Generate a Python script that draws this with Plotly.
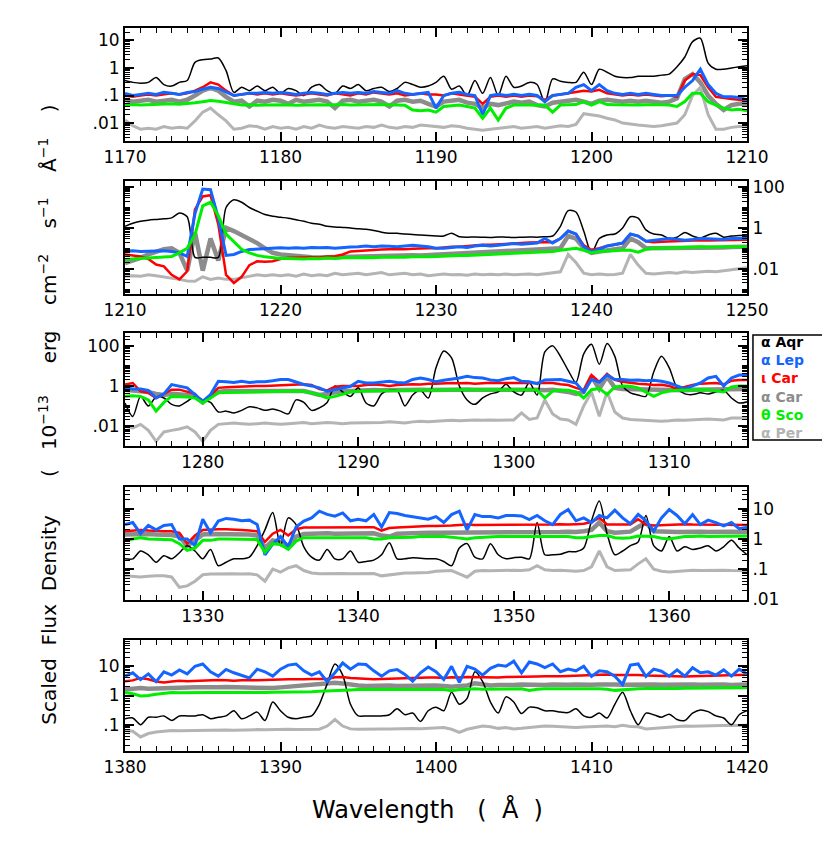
import numpy as np
import plotly.graph_objects as go

# wavelength windows (Angstrom), one per panel, sampled every 0.5 A
WINDOWS = [(1170, 1210), (1210, 1250), (1275, 1315), (1325, 1365), (1380, 1420)]
STEP = 0.5

# ---- panel 1 : 1170-1210 ----
p1_aqr = [0.35, 0.3, 0.28, 0.3, 0.45, 0.25, 0.22, 0.3, 0.35, 1.6,
          2.0, 2.1, 2.3, 0.8, 0.13, 0.2, 0.15, 0.22, 0.15, 0.2,
          0.12, 0.18, 0.15, 0.1, 0.2, 0.25, 0.15, 0.12, 0.22, 0.18,
          0.25, 0.15, 0.18, 0.2, 0.14, 0.18, 0.3, 0.25, 0.2, 0.22,
          0.3, 0.5, 0.17, 0.22, 0.1, 0.35, 0.12, 0.45, 0.1, 0.5,
          0.2, 0.22, 0.3, 0.25, 0.055, 0.4, 0.33, 0.3, 0.3, 0.7,
          0.25, 0.9, 0.7, 0.5, 0.45, 0.45, 0.5, 0.5, 0.5, 0.55,
          0.6, 1.1, 2.5, 9.0, 12.0, 1.5, 0.9, 0.9, 1.0, 1.1,
          1.2]
p1_lep = [0.12, 0.1, 0.11, 0.12, 0.11, 0.13, 0.12, 0.11, 0.13, 0.14,
          0.17, 0.2, 0.18, 0.13, 0.1, 0.11, 0.12, 0.12, 0.13, 0.12,
          0.13, 0.12, 0.11, 0.12, 0.13, 0.12, 0.11, 0.12, 0.13, 0.12,
          0.13, 0.12, 0.14, 0.13, 0.12, 0.15, 0.12, 0.11, 0.12, 0.13,
          0.035, 0.1, 0.12, 0.13, 0.11, 0.1, 0.02, 0.1, 0.11, 0.1,
          0.11, 0.1, 0.11, 0.1, 0.06, 0.1, 0.11, 0.12, 0.2, 0.25,
          0.15, 0.25, 0.15, 0.12, 0.11, 0.12, 0.11, 0.12, 0.11, 0.1,
          0.1, 0.1, 0.2, 0.35, 0.9, 0.25, 0.12, 0.09, 0.09, 0.085,
          0.07]
p1_icar = [0.1, 0.09, 0.1, 0.11, 0.1, 0.11, 0.12, 0.11, 0.12, 0.15,
           0.2, 0.3, 0.25, 0.15, 0.1, 0.11, 0.12, 0.11, 0.12, 0.11,
           0.12, 0.11, 0.1, 0.11, 0.12, 0.11, 0.1, 0.12, 0.11, 0.1,
           0.12, 0.11, 0.13, 0.12, 0.11, 0.12, 0.1, 0.11, 0.12, 0.11,
           0.11, 0.1, 0.12, 0.11, 0.1, 0.09, 0.05, 0.09, 0.1, 0.09,
           0.1, 0.09, 0.1, 0.095, 0.07, 0.1, 0.11, 0.12, 0.13, 0.15,
           0.14, 0.16, 0.12, 0.11, 0.1, 0.11, 0.1, 0.11, 0.1, 0.095,
           0.1, 0.09, 0.35, 0.6, 0.55, 0.2, 0.09, 0.08, 0.075, 0.07,
           0.065]
p1_acar = [0.07, 0.06, 0.065, 0.07, 0.06, 0.065, 0.07, 0.06, 0.07, 0.1,
           0.15, 0.19, 0.15, 0.09, 0.06, 0.065, 0.04, 0.065, 0.06, 0.07,
           0.065, 0.05, 0.07, 0.06, 0.065, 0.07, 0.06, 0.035, 0.065, 0.07,
           0.06, 0.065, 0.07, 0.06, 0.04, 0.065, 0.07, 0.06, 0.065, 0.05,
           0.04, 0.06, 0.065, 0.07, 0.055, 0.05, 0.035, 0.05, 0.045, 0.05,
           0.06, 0.055, 0.06, 0.045, 0.04, 0.055, 0.06, 0.065, 0.07, 0.06,
           0.05, 0.065, 0.07, 0.065, 0.06, 0.065, 0.06, 0.065, 0.06, 0.055,
           0.06, 0.08, 0.4, 0.6, 0.3, 0.1, 0.05, 0.03, 0.045, 0.05,
           0.05]
p1_sco = [0.045, 0.047, 0.045, 0.046, 0.048, 0.05, 0.05, 0.048, 0.05, 0.055,
          0.06, 0.066, 0.062, 0.055, 0.048, 0.045, 0.046, 0.044, 0.045, 0.046,
          0.045, 0.046, 0.044, 0.045, 0.047, 0.046, 0.045, 0.046, 0.047, 0.045,
          0.046, 0.047, 0.048, 0.047, 0.046, 0.045, 0.044, 0.03, 0.028, 0.03,
          0.025, 0.04, 0.042, 0.045, 0.04, 0.035, 0.015, 0.035, 0.013, 0.035,
          0.045, 0.046, 0.045, 0.044, 0.045, 0.025, 0.045, 0.046, 0.047, 0.06,
          0.045, 0.06, 0.047, 0.046, 0.045, 0.046, 0.045, 0.046, 0.047, 0.046,
          0.045, 0.04, 0.06, 0.12, 0.12, 0.06, 0.045, 0.035, 0.03, 0.032,
          0.028]
p1_per = [0.013, 0.008, 0.006, 0.0065, 0.006, 0.0075, 0.0065, 0.007, 0.0065, 0.012,
          0.025, 0.035, 0.02, 0.012, 0.006, 0.0065, 0.008, 0.0075, 0.006, 0.0075,
          0.0065, 0.007, 0.006, 0.0075, 0.0065, 0.0085, 0.007, 0.0065, 0.0075, 0.007,
          0.0065, 0.0075, 0.007, 0.0085, 0.007, 0.0065, 0.0075, 0.007, 0.0085, 0.008,
          0.0075, 0.007, 0.008, 0.0075, 0.0065, 0.006, 0.0055, 0.006, 0.0065, 0.007,
          0.0075, 0.0065, 0.007, 0.0075, 0.0065, 0.007, 0.008, 0.0075, 0.009, 0.022,
          0.02, 0.018, 0.015, 0.013, 0.01, 0.009, 0.0085, 0.008, 0.0075, 0.008,
          0.009, 0.01, 0.02, 0.1, 0.2, 0.02, 0.006, 0.006, 0.007, 0.0075,
          0.0075]

# ---- panel 2 : 1210-1250 ----
p2_aqr = [1.2, 1.7, 2.1, 2.4, 2.6, 2.8, 3.1, 5.4, 3.5, 0.036,
          0.036, 0.036, 0.036, 10.0, 24.0, 18.0, 10.0, 6.6, 4.5, 3.7,
          3.3, 3.0, 2.5, 2.1, 1.7, 1.5, 1.2, 1.1, 1.05, 1.0,
          0.9, 0.85, 0.75, 0.62, 0.55, 0.55, 0.5, 0.48, 0.45, 0.42,
          0.4, 0.4, 0.55, 0.37, 0.35, 0.36, 0.35, 0.34, 0.36, 0.35,
          0.34, 0.35, 0.36, 0.35, 0.37, 0.4, 1.2, 7.0, 6.0, 0.7,
          0.06, 0.3, 0.45, 0.5, 1.0, 3.5, 3.0, 0.8, 0.5, 0.45,
          0.3, 0.35, 0.6, 0.4, 0.32, 0.45, 0.55, 0.35, 0.4, 0.42,
          0.45]
p2_lep = [0.072, 0.075, 0.07, 0.072, 0.07, 0.075, 0.07, 0.06, 0.04, 5.0,
          80.0, 75.0, 3.0, 0.045, 0.05, 0.07, 0.087, 0.09, 0.1, 0.1,
          0.105, 0.1, 0.105, 0.1, 0.11, 0.105, 0.11, 0.1, 0.11, 0.115,
          0.12, 0.13, 0.12, 0.13, 0.125, 0.12, 0.13, 0.14, 0.13, 0.12,
          0.1, 0.1, 0.11, 0.12, 0.11, 0.13, 0.14, 0.13, 0.14, 0.15,
          0.17, 0.16, 0.17, 0.18, 0.3, 0.18, 0.3, 0.7, 0.5, 0.12,
          0.07, 0.09, 0.13, 0.15, 0.18, 0.5, 0.4, 0.22, 0.25, 0.27,
          0.3, 0.28, 0.25, 0.27, 0.3, 0.29, 0.28, 0.27, 0.3, 0.3,
          0.3]
p2_icar = [0.05, 0.045, 0.04, 0.03, 0.016, 0.013, 0.005, 0.003, 0.0075, 8.0,
           35.0, 40.0, 1.5, 0.005, 0.002, 0.004, 0.015, 0.023, 0.022, 0.023,
           0.03, 0.034, 0.035, 0.034, 0.036, 0.035, 0.04, 0.041, 0.05, 0.07,
           0.075, 0.08, 0.085, 0.087, 0.09, 0.087, 0.09, 0.095, 0.1, 0.1,
           0.1, 0.11, 0.12, 0.12, 0.13, 0.14, 0.15, 0.15, 0.16, 0.17,
           0.18, 0.18, 0.19, 0.2, 0.2, 0.2, 0.3, 0.7, 0.5, 0.14,
           0.085, 0.1, 0.13, 0.15, 0.18, 0.5, 0.4, 0.22, 0.2, 0.21,
           0.22, 0.23, 0.24, 0.24, 0.25, 0.24, 0.24, 0.25, 0.25, 0.26,
           0.26]
p2_acar = [0.019, 0.025, 0.034, 0.05, 0.065, 0.09, 0.1, 0.06, 0.008, 0.6,
           0.008, 0.3, 0.025, 1.0, 0.7, 0.45, 0.3, 0.18, 0.1, 0.06,
           0.05, 0.045, 0.04, 0.038, 0.036, 0.035, 0.036, 0.037, 0.038, 0.04,
           0.04, 0.041, 0.042, 0.043, 0.044, 0.045, 0.044, 0.046, 0.045, 0.047,
           0.05, 0.052, 0.055, 0.057, 0.06, 0.062, 0.065, 0.067, 0.07, 0.072,
           0.075, 0.077, 0.08, 0.082, 0.085, 0.09, 0.1, 0.4, 0.3, 0.1,
           0.06, 0.07, 0.08, 0.09, 0.1, 0.3, 0.2, 0.1, 0.1, 0.1,
           0.1, 0.1, 0.105, 0.1, 0.1, 0.105, 0.11, 0.11, 0.115, 0.12,
           0.12]
p2_sco = [0.028, 0.03, 0.032, 0.034, 0.036, 0.038, 0.04, 0.06, 0.1, 0.47,
          12.0, 18.0, 4.0, 0.5, 0.2, 0.09, 0.06, 0.045, 0.038, 0.034,
          0.032, 0.032, 0.031, 0.03, 0.032, 0.031, 0.033, 0.032, 0.034, 0.033,
          0.034, 0.035, 0.034, 0.036, 0.035, 0.037, 0.036, 0.038, 0.037, 0.039,
          0.04, 0.042, 0.043, 0.045, 0.044, 0.046, 0.048, 0.05, 0.049, 0.052,
          0.055, 0.057, 0.06, 0.062, 0.065, 0.07, 0.08, 0.09, 0.1, 0.08,
          0.06, 0.07, 0.075, 0.078, 0.08, 0.08, 0.065, 0.09, 0.1, 0.1,
          0.105, 0.11, 0.11, 0.115, 0.12, 0.115, 0.12, 0.12, 0.12, 0.125,
          0.12]
p2_per = [0.0043, 0.0045, 0.0043, 0.005, 0.0045, 0.004, 0.0035, 0.003, 0.0025, 0.0024,
          0.004, 0.003, 0.0035, 0.003, 0.003, 0.0035, 0.004, 0.005, 0.0045, 0.005,
          0.0045, 0.005, 0.0043, 0.0055, 0.0045, 0.005, 0.0045, 0.006, 0.005, 0.0055,
          0.006, 0.005, 0.0055, 0.0065, 0.005, 0.0055, 0.006, 0.005, 0.0055, 0.0045,
          0.005, 0.0055, 0.005, 0.0052, 0.0048, 0.0055, 0.005, 0.0053, 0.005, 0.0055,
          0.005, 0.0052, 0.0055, 0.005, 0.0055, 0.006, 0.007, 0.05, 0.02, 0.006,
          0.005, 0.0055, 0.005, 0.0052, 0.006, 0.05, 0.015, 0.006, 0.0055, 0.006,
          0.0065, 0.006, 0.007, 0.0065, 0.007, 0.0075, 0.007, 0.008, 0.0095, 0.01,
          0.011]

# ---- panel 3 : 1275-1315 ----
p3_aqr = [0.14, 0.03, 0.3, 0.1, 0.28, 0.25, 0.12, 0.1, 0.17, 0.3,
          0.2, 0.15, 0.05, 0.055, 0.045, 0.06, 0.09, 0.08, 0.06, 0.07,
          0.055, 0.04, 0.2, 0.15, 0.06, 0.08, 0.15, 1.0, 0.5, 0.3,
          0.8, 0.14, 0.1, 0.4, 0.6, 0.6, 0.1, 0.35, 0.6, 0.25,
          8.0, 55.0, 25.0, 1.0, 0.2, 0.12, 0.25, 0.4, 0.5, 1.2,
          0.5, 0.35, 1.5, 0.35, 50.0, 100.0, 30.0, 6.0, 1.5, 40.0,
          120.0, 12.0, 130.0, 30.0, 1.0, 0.45, 0.35, 0.3, 5.0, 30.0,
          8.0, 0.8, 0.4, 0.37, 0.45, 0.4, 0.5, 0.6, 0.25, 0.14,
          0.16]
p3_lep = [0.8, 0.7, 0.7, 0.6, 0.25, 0.4, 1.17, 1.0, 0.8, 0.37,
          0.17, 0.37, 1.7, 1.6, 1.5, 1.7, 1.5, 1.6, 1.6, 1.8,
          2.1, 2.1, 1.5, 1.17, 1.0, 0.8, 0.54, 0.65, 0.8, 0.96,
          1.7, 1.4, 1.4, 1.5, 1.7, 1.5, 1.4, 2.1, 2.5, 2.1,
          1.6, 1.9, 2.1, 2.5, 3.0, 2.6, 2.5, 2.0, 1.8, 2.3,
          2.6, 1.7, 1.6, 1.3, 2.0, 2.0, 2.1, 1.7, 1.4, 0.5,
          2.1, 1.5, 3.5, 2.1, 2.1, 1.9, 2.0, 1.8, 1.9, 1.7,
          1.4, 1.0, 0.7, 1.0, 1.4, 2.5, 3.0, 1.0, 2.5, 3.5,
          3.5]
p3_icar = [1.17, 1.4, 0.54, 0.45, 0.25, 0.4, 0.65, 0.65, 0.5, 0.4,
           0.14, 0.35, 0.8, 0.85, 0.9, 0.92, 0.95, 1.0, 1.0, 1.05,
           1.1, 1.1, 1.15, 1.2, 1.1, 0.7, 0.6, 0.9, 1.0, 1.0,
           1.0, 1.1, 1.17, 1.1, 1.0, 1.1, 1.17, 1.2, 1.17, 1.3,
           1.3, 1.4, 1.4, 1.35, 1.4, 1.3, 1.4, 1.45, 1.4, 1.4,
           1.35, 1.4, 1.4, 1.4, 1.3, 1.4, 1.2, 1.1, 0.8, 0.6,
           3.5, 1.6, 4.0, 2.0, 1.6, 1.4, 1.3, 1.2, 1.1, 1.15,
           1.0, 0.7, 0.9, 1.1, 1.3, 1.4, 1.4, 1.2, 1.8, 2.0,
           2.0]
p3_acar = [0.65, 0.6, 0.55, 0.5, 0.4, 0.35, 0.4, 0.38, 0.35, 0.3,
           0.15, 0.3, 0.5, 0.55, 0.55, 0.56, 0.55, 0.56, 0.55, 0.56,
           0.56, 0.55, 0.56, 0.55, 0.45, 0.35, 0.4, 0.5, 0.55, 0.56,
           0.6, 0.6, 0.62, 0.6, 0.62, 0.6, 0.63, 0.62, 0.64, 0.62,
           0.64, 0.65, 0.64, 0.65, 0.66, 0.65, 0.66, 0.65, 0.66, 0.65,
           0.65, 0.66, 0.65, 0.64, 0.6, 0.65, 0.6, 0.5, 0.4, 0.5,
           3.0, 0.7, 3.0, 0.8, 0.7, 0.68, 0.67, 0.66, 0.65, 0.66,
           0.64, 0.55, 0.6, 0.65, 0.66, 0.67, 0.68, 0.67, 0.7, 0.7,
           0.7]
p3_sco = [0.3, 0.32, 0.3, 0.2, 0.055, 0.15, 0.3, 0.3, 0.28, 0.25,
          0.14, 0.25, 0.45, 0.47, 0.48, 0.5, 0.5, 0.52, 0.54, 0.55,
          0.55, 0.56, 0.55, 0.52, 0.45, 0.35, 0.25, 0.3, 0.4, 0.5,
          0.54, 0.55, 0.56, 0.57, 0.58, 0.6, 0.6, 0.62, 0.62, 0.64,
          0.65, 0.65, 0.66, 0.65, 0.64, 0.65, 0.66, 0.65, 0.64, 0.65,
          0.65, 0.64, 0.65, 0.62, 0.25, 0.55, 0.62, 0.6, 0.5, 0.25,
          0.65, 0.75, 0.37, 0.9, 1.0, 0.95, 0.8, 0.5, 0.3, 0.45,
          0.55, 0.6, 0.62, 0.64, 0.65, 0.64, 0.55, 0.5, 0.9, 1.0,
          1.0]
p3_per = [0.0098, 0.008, 0.012, 0.006, 0.0017, 0.005, 0.006, 0.007, 0.009, 0.005,
          0.0017, 0.006, 0.012, 0.013, 0.014, 0.013, 0.012, 0.013, 0.014, 0.013,
          0.012, 0.013, 0.014, 0.015, 0.013, 0.014, 0.015, 0.014, 0.013, 0.014,
          0.014, 0.015, 0.014, 0.015, 0.016, 0.015, 0.014, 0.016, 0.017, 0.016,
          0.017, 0.018, 0.019, 0.018, 0.019, 0.02, 0.019, 0.02, 0.019, 0.02,
          0.02, 0.045, 0.021, 0.025, 0.2, 0.04, 0.022, 0.02, 0.012, 0.1,
          0.5, 0.03, 0.5, 0.05, 0.025, 0.021, 0.02, 0.019, 0.018, 0.017,
          0.018, 0.02, 0.019, 0.02, 0.021, 0.022, 0.021, 0.02, 0.025, 0.025,
          0.025]

# ---- panel 4 : 1325-1365 ----
p4_aqr = [0.22, 0.22, 0.4, 0.3, 0.17, 0.28, 0.22, 0.35, 0.6, 0.4,
          0.22, 0.45, 0.13, 0.17, 0.22, 0.22, 0.25, 0.6, 2.0, 7.5,
          0.6, 5.0, 3.0, 0.55, 0.25, 0.2, 0.45, 0.22, 0.22, 0.4,
          0.17, 0.18, 0.2, 0.3, 0.75, 0.22, 0.22, 0.24, 0.23, 0.22,
          0.22, 0.18, 0.13, 0.5, 0.7, 0.25, 0.22, 0.7, 0.3, 0.22,
          0.24, 0.25, 0.22, 3.5, 0.3, 0.3, 0.31, 0.38, 0.38, 0.5,
          4.0, 18.0, 1.5, 0.3, 0.4, 0.6, 0.8, 6.0, 0.6, 0.4,
          1.2, 0.4, 0.55, 0.45, 0.5, 0.6, 0.4, 0.55, 0.9, 0.5,
          0.3]
p4_lep = [3.0, 3.5, 1.5, 2.8, 2.0, 2.8, 3.0, 1.0, 1.0, 0.6,
          4.5, 1.6, 3.9, 4.8, 4.5, 4.0, 4.2, 3.0, 0.3, 0.67,
          1.2, 0.55, 2.5, 3.9, 5.0, 8.3, 6.5, 5.7, 7.3, 4.0,
          4.5, 4.0, 6.5, 2.5, 7.5, 7.0, 6.0, 5.5, 5.0, 4.5,
          5.5, 3.5, 6.4, 8.3, 2.0, 6.4, 5.5, 5.5, 5.0, 6.0,
          6.0, 5.8, 4.4, 6.0, 4.0, 3.0, 6.5, 9.4, 4.0, 5.0,
          3.5, 6.0, 5.0, 9.0, 5.0, 3.2, 6.5, 4.0, 1.8, 5.0,
          9.4, 6.0, 3.2, 6.4, 3.0, 4.2, 3.5, 2.7, 3.5, 2.2,
          2.4]
p4_icar = [1.8, 1.9, 2.0, 1.9, 1.8, 1.8, 1.8, 1.6, 0.7, 1.3,
           2.0, 2.1, 2.1, 2.1, 2.1, 2.0, 1.9, 1.8, 0.8, 1.5,
           2.0, 1.3, 2.1, 2.4, 2.4, 2.4, 2.45, 2.4, 2.45, 2.4,
           2.45, 2.4, 2.45, 1.9, 2.3, 2.4, 2.5, 2.5, 2.6, 2.7,
           2.7, 2.7, 2.8, 2.9, 3.0, 2.9, 2.9, 2.9, 2.9, 3.0,
           3.0, 3.0, 3.0, 3.0, 3.0, 3.0, 3.1, 3.0, 3.1, 3.2,
           3.6, 5.0, 3.0, 3.0, 3.1, 3.0, 4.5, 3.0, 2.8, 2.9,
           3.0, 3.0, 3.1, 3.0, 3.0, 3.0, 3.0, 3.0, 3.0, 2.95,
           2.9]
p4_acar = [1.4, 1.45, 1.4, 1.45, 1.4, 1.4, 1.35, 1.2, 0.6, 0.9,
           1.4, 1.45, 1.45, 1.5, 1.45, 1.45, 1.4, 1.3, 0.5, 0.9,
           0.8, 0.6, 1.2, 1.45, 1.5, 1.5, 1.55, 1.5, 1.5, 1.55,
           1.5, 1.5, 1.55, 1.3, 1.2, 1.5, 1.55, 1.6, 1.55, 1.6,
           1.6, 1.6, 1.65, 1.6, 1.6, 1.65, 1.6, 1.65, 1.7, 1.65,
           1.7, 1.65, 1.7, 1.7, 1.65, 1.7, 1.7, 1.75, 1.7, 1.8,
           2.0, 3.5, 1.8, 1.6, 1.7, 1.75, 2.5, 3.5, 1.8, 1.7,
           1.75, 1.7, 1.75, 1.7, 1.75, 1.7, 1.75, 1.7, 1.75, 1.7,
           1.7]
p4_sco = [0.9, 1.0, 1.1, 1.0, 1.0, 1.0, 0.95, 0.7, 0.42, 0.5,
          0.9, 0.9, 1.0, 1.0, 1.0, 1.0, 1.0, 0.95, 0.36, 0.7,
          0.65, 0.45, 0.85, 1.1, 1.1, 1.1, 1.1, 1.1, 1.1, 1.1,
          1.1, 1.1, 1.0, 1.0, 1.1, 1.1, 1.15, 1.15, 1.2, 1.2,
          1.25, 1.2, 1.15, 1.1, 1.0, 1.1, 1.15, 1.2, 1.2, 1.2,
          1.2, 1.2, 1.2, 1.25, 1.2, 1.2, 1.2, 1.2, 1.1, 1.1,
          1.2, 1.3, 1.3, 1.1, 1.05, 1.1, 1.25, 1.2, 1.2, 1.05,
          1.0, 1.1, 1.2, 1.2, 1.25, 1.2, 1.2, 1.25, 1.25, 1.25,
          1.25]
p4_per = [0.061, 0.058, 0.055, 0.058, 0.061, 0.06, 0.055, 0.025, 0.028, 0.04,
          0.065, 0.069, 0.07, 0.069, 0.07, 0.069, 0.07, 0.065, 0.04, 0.1,
          0.08, 0.11, 0.13, 0.09, 0.075, 0.07, 0.072, 0.07, 0.072, 0.07,
          0.072, 0.07, 0.072, 0.06, 0.065, 0.072, 0.075, 0.074, 0.076, 0.078,
          0.085, 0.088, 0.09, 0.07, 0.054, 0.085, 0.09, 0.088, 0.09, 0.09,
          0.092, 0.09, 0.095, 0.13, 0.095, 0.09, 0.092, 0.088, 0.085, 0.09,
          0.12, 0.4, 0.12, 0.09, 0.092, 0.095, 0.15, 0.22, 0.1, 0.085,
          0.08, 0.085, 0.09, 0.092, 0.09, 0.092, 0.09, 0.092, 0.09, 0.09,
          0.089]

# ---- panel 5 : 1380-1420 ----
p5_aqr = [0.16, 0.17, 0.1, 0.18, 0.18, 0.2, 0.14, 0.2, 0.2, 0.2,
          0.22, 0.16, 0.18, 0.2, 0.3, 0.16, 0.2, 0.27, 0.14, 0.6,
          0.3, 0.18, 0.16, 0.18, 0.2, 0.5, 2.5, 12.0, 5.0, 0.5,
          0.2, 0.2, 0.2, 0.2, 0.22, 0.35, 0.22, 0.25, 0.13, 0.3,
          0.4, 0.3, 1.3, 0.5, 0.8, 6.5, 3.0, 0.6, 0.25, 0.9,
          0.6, 0.24, 0.4, 0.38, 0.3, 0.3, 0.27, 0.26, 0.35, 0.2,
          0.18, 0.25, 0.17, 0.5, 1.3, 0.3, 0.1, 0.25, 0.22, 0.18,
          0.23, 0.15, 0.14, 0.25, 0.32, 0.28, 0.2, 0.17, 0.1, 0.22,
          0.3]
p5_lep = [4.6, 6.0, 3.5, 5.5, 3.0, 6.5, 5.0, 7.5, 5.5, 10.0,
          12.0, 6.5, 4.6, 7.8, 6.0, 5.0, 4.0, 8.0, 6.5, 4.6,
          8.0, 11.0, 12.0, 7.0, 5.0, 6.5, 3.0, 6.0, 13.0, 8.0,
          12.0, 11.5, 7.0, 4.6, 7.0, 7.8, 5.3, 3.1, 6.0, 9.5,
          6.5, 3.5, 10.0, 2.8, 10.0, 8.0, 5.0, 8.5, 11.0, 10.0,
          15.0, 6.0, 14.0, 12.0, 9.0, 12.0, 6.5, 8.0, 7.0, 10.0,
          4.5, 7.0, 6.5, 4.6, 2.4, 11.0, 12.0, 4.5, 8.0, 6.8,
          4.6, 7.5, 4.6, 9.0, 6.0, 6.5, 5.0, 7.5, 4.6, 8.0,
          5.5]
p5_icar = [3.1, 3.3, 4.0, 3.6, 3.0, 2.8, 3.0, 3.2, 3.1, 3.2,
           3.2, 3.3, 3.4, 3.3, 3.2, 3.3, 3.4, 3.3, 3.3, 3.4,
           3.5, 3.6, 3.5, 3.6, 3.7, 3.8, 3.7, 4.2, 4.3, 4.0,
           3.8, 3.7, 3.6, 3.7, 3.8, 3.9, 4.0, 3.9, 4.0, 4.1,
           4.1, 4.0, 4.2, 4.1, 4.3, 4.2, 4.3, 4.2, 4.1, 4.3,
           4.3, 4.5, 4.4, 4.5, 4.6, 4.5, 4.6, 4.7, 4.8, 5.0,
           5.2, 5.3, 5.2, 5.0, 5.1, 5.2, 5.0, 4.8, 4.7, 4.6,
           4.6, 4.5, 4.5, 4.6, 4.7, 4.8, 4.9, 5.0, 5.0, 5.1,
           5.1]
p5_acar = [1.6, 1.7, 1.8, 1.7, 1.75, 1.8, 1.85, 1.8, 1.85, 1.9,
           1.9, 1.85, 1.9, 1.95, 1.9, 1.85, 1.8, 1.75, 1.7, 1.8,
           1.9, 2.0, 2.05, 2.1, 2.2, 2.3, 2.4, 2.75, 2.6, 2.3,
           2.2, 2.1, 2.15, 2.1, 2.2, 2.1, 2.15, 2.2, 2.1, 2.15,
           2.2, 2.1, 2.0, 2.1, 2.2, 2.6, 2.4, 2.2, 2.3, 2.2,
           2.3, 2.4, 2.3, 2.35, 2.3, 2.4, 2.3, 2.35, 2.4, 2.3,
           2.35, 2.4, 2.3, 2.4, 2.35, 2.4, 2.3, 2.35, 2.4, 2.35,
           2.4, 2.35, 2.3, 2.4, 2.35, 2.4, 2.35, 2.4, 2.3, 2.35,
           2.4]
p5_sco = [1.26, 1.15, 0.97, 1.0, 1.1, 1.2, 1.26, 1.25, 1.24, 1.22,
          1.25, 1.26, 1.27, 1.26, 1.25, 1.27, 1.3, 1.28, 1.26, 1.3,
          1.3, 1.32, 1.35, 1.33, 1.35, 1.4, 1.42, 1.45, 1.5, 1.55,
          1.6, 1.6, 1.62, 1.6, 1.63, 1.62, 1.64, 1.63, 1.65, 1.64,
          1.64, 1.6, 1.45, 1.6, 1.65, 1.7, 1.65, 1.66, 1.7, 1.68,
          1.65, 1.7, 1.5, 1.65, 1.7, 1.72, 1.7, 1.75, 1.72, 1.7,
          1.72, 1.7, 1.65, 1.5, 1.6, 1.7, 1.72, 1.75, 1.73, 1.75,
          1.76, 1.75, 1.76, 1.78, 1.76, 1.8, 1.78, 1.8, 1.85, 1.82,
          1.85]
p5_per = [0.063, 0.06, 0.038, 0.05, 0.056, 0.06, 0.063, 0.062, 0.063, 0.064,
          0.063, 0.065, 0.064, 0.066, 0.065, 0.067, 0.066, 0.068, 0.067, 0.069,
          0.068, 0.07, 0.069, 0.07, 0.071, 0.07, 0.09, 0.15, 0.09, 0.072,
          0.07, 0.072, 0.071, 0.072, 0.071, 0.073, 0.072, 0.074, 0.073, 0.075,
          0.078, 0.08, 0.07, 0.055, 0.07, 0.08, 0.09, 0.085, 0.075, 0.08,
          0.072, 0.075, 0.08, 0.085, 0.09, 0.088, 0.085, 0.082, 0.08, 0.083,
          0.085, 0.088, 0.09, 0.085, 0.095, 0.087, 0.085, 0.072, 0.075, 0.08,
          0.082, 0.085, 0.09, 0.088, 0.09, 0.092, 0.09, 0.093, 0.095, 0.094,
          0.095]

FLUX = {
    "α Aqr": [p1_aqr, p2_aqr, p3_aqr, p4_aqr, p5_aqr],
    "α Lep": [p1_lep, p2_lep, p3_lep, p4_lep, p5_lep],
    "ι Car": [p1_icar, p2_icar, p3_icar, p4_icar, p5_icar],
    "α Car": [p1_acar, p2_acar, p3_acar, p4_acar, p5_acar],
    "θ Sco": [p1_sco, p2_sco, p3_sco, p4_sco, p5_sco],
    "α Per": [p1_per, p2_per, p3_per, p4_per, p5_per],
}
LEGEND_ORDER = ["α Aqr", "α Lep", "ι Car", "α Car", "θ Sco", "α Per"]
DRAW_ORDER = ["α Car", "α Per", "α Aqr", "ι Car", "α Lep", "θ Sco"]

COLORS = {"α Aqr": "#000000", "α Lep": "#1464ff", "ι Car": "#ff0000",
          "α Car": "#8c8c8c", "θ Sco": "#00ee00", "α Per": "#b4b4b4"}
WIDTHS = {"α Aqr": 1.5, "α Lep": 3, "ι Car": 2.5,
          "α Car": 4.5, "θ Sco": 3, "α Per": 3}

# y axes: log10 range, labelled decades, side
Y_RANGES = [(-2.65, 1.45), (-3.24, 2.30), (-3.0, 2.62), (-2.02, 1.72), (-1.9, 1.9)]
Y_LABELS = [
    [(10, "10"), (1, "1"), (0.1, ".1"), (0.01, ".01")],
    [(100, "100"), (1, "1"), (0.01, ".01")],
    [(100, "100"), (1, "1"), (0.01, ".01")],
    [(10, "10"), (1, "1"), (0.1, ".1"), (0.01, ".01")],
    [(10, "10"), (1, "1"), (0.1, ".1")],
]
Y_SIDES = ["left", "right", "left", "right", "left"]
DOMAINS = [(0.8437, 1.0), (0.6321, 0.7884), (0.4219, 0.5775), (0.2089, 0.3651), (0.0, 0.1535)]

FONT = "DejaVu Sans"
NB = "\u00a0"

fig = go.Figure()

decades = [10.0 ** k for k in range(-4, 4)]
sub_decade = [m * 10.0 ** k for k in range(-4, 3) for m in range(2, 10)]

for i, (lo, hi) in enumerate(WINDOWS):
    n = i + 1
    sfx = "" if n == 1 else str(n)
    wl = np.arange(lo, hi + STEP / 2, STEP)
    for star in DRAW_ORDER:
        flux = FLUX[star][i]
        assert len(flux) == len(wl), (star, i, len(flux))
        fig.add_trace(go.Scatter(
            x=wl, y=flux, mode="lines",
            line=dict(color=COLORS[star], width=WIDTHS[star],
                      shape="spline" if star == "α Aqr" else "linear",
                      smoothing=0.8),
            xaxis="x" + sfx, yaxis="y" + sfx,
            showlegend=False, hoverinfo="skip",
        ))

    fig.layout["xaxis" + sfx] = dict(
        domain=[0, 1], anchor="y" + sfx, range=[lo, hi],
        tickmode="linear", tick0=0, dtick=10,
        ticks="inside", ticklen=9, tickwidth=1.5, tickcolor="black",
        showline=True, linewidth=2, linecolor="black", mirror="ticks",
        showgrid=False, zeroline=False,
        tickfont=dict(size=17, color="black", family=FONT),
        minor=dict(dtick=1, ticks="inside", ticklen=5, tickwidth=1.2,
                   tickcolor="black", showgrid=False),
    )
    lab_vals = [v for v, _ in Y_LABELS[i]]
    lab_text = [t for _, t in Y_LABELS[i]]
    unlabelled = [d for d in decades
                  if not any(abs(d - v) < 1e-9 * max(d, v) for v in lab_vals)]
    fig.layout["yaxis" + sfx] = dict(
        domain=list(DOMAINS[i]), anchor="x" + sfx, type="log",
        range=list(Y_RANGES[i]), side=Y_SIDES[i],
        tickmode="array", tickvals=lab_vals, ticktext=lab_text,
        ticks="inside", ticklen=9, tickwidth=1.5, tickcolor="black",
        showline=True, linewidth=2, linecolor="black", mirror="ticks",
        showgrid=False, zeroline=False,
        tickfont=dict(size=17, color="black", family=FONT),
        minor=dict(tickmode="array", tickvals=sub_decade + unlabelled,
                   ticks="inside", ticklen=5, tickwidth=1.2,
                   tickcolor="black", showgrid=False),
    )

# legend box right of panel 3
legend_lines = "<br>".join(
    f"<span style='color:{COLORS[s]}'><b>{s}</b></span>" for s in LEGEND_ORDER)
fig.add_shape(type="rect", xref="paper", yref="paper",
              x0=1.0096, x1=1.127, y0=0.4302, y1=0.5754,
              line=dict(color="black", width=1.5))
fig.add_annotation(xref="paper", yref="paper", x=1.019, y=0.503,
                   xanchor="left", yanchor="middle", align="left",
                   text=legend_lines, showarrow=False,
                   font=dict(size=14, family=FONT))

fig.add_annotation(
    xref="paper", yref="paper", x=0.487, y=-0.0816, showarrow=False,
    xanchor="center", yanchor="middle",
    text="Wavelength" + NB * 3 + "(" + NB * 2 + "Å" + NB * 2 + ")",
    font=dict(size=24, family=FONT, color="black"))
fig.add_annotation(
    xref="paper", yref="paper", x=-0.124, y=0.465, showarrow=False, textangle=-90,
    xanchor="center", yanchor="middle",
    text=("Scaled" + NB + " Flux" + NB + " Density" + NB * 6 + "(" + NB * 3
          + "10<sup>−13</sup>" + NB * 5 + "erg" + NB * 4 + "cm<sup>−2</sup>" + NB * 4
          + "s<sup>−1</sup>" + NB * 4 + "Å<sup>−1</sup>" + NB * 4 + ")"),
    font=dict(size=20, family=FONT, color="black"))

fig.update_layout(
    width=830, height=846,
    margin=dict(l=117, r=91, t=20, b=103),
    plot_bgcolor="white", paper_bgcolor="white",
    font=dict(family=FONT, color="black"),
    showlegend=False,
)

fig.write_html("out.html")
